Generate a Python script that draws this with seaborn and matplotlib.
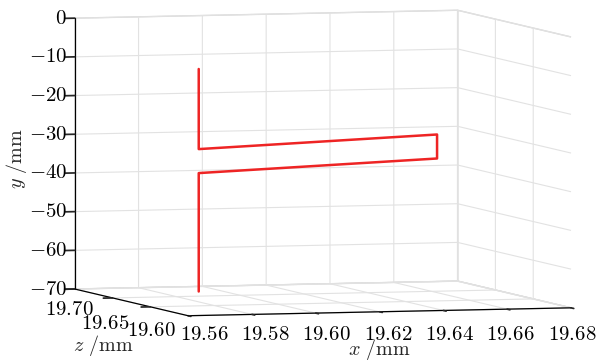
import numpy as np
import pandas as pd
import seaborn as sns
import matplotlib
matplotlib.use("Agg")
import matplotlib.pyplot as plt
from mpl_toolkits.mplot3d import proj3d

# ---- data ----
path_x = [19.5927, 19.5927, 19.6674, 19.6674, 19.5927, 19.5927]
path_y = [-12.5, -33.2, -30.7, -36.9, -39.4, -70.0]
path_z = [19.674, 19.674, 19.674, 19.674, 19.674, 19.674]

x_ticks = [19.56, 19.58, 19.60, 19.62, 19.64, 19.66, 19.68]
z_ticks = [19.60, 19.65, 19.70]
y_ticks = [-70, -60, -50, -40, -30, -20, -10, 0]
x_labels = ["19.56", "19.58", "19.60", "19.62", "19.64", "19.66", "19.68"]
z_labels = ["19.60", "19.65", "19.70"]
y_labels = ["-70", "-60", "-50", "-40", "-30", "-20", "-10", "0"]

x_lim = (19.56, 19.68)
z_lim = (19.55, 19.70)
y_lim = (-70, 0)

# label offsets in pixels (styling only)
x_label_dx = np.linspace(16, 1, len(x_ticks))
z_label_off = [(1, -24), (-7, -26), (-5, -20)]

sns.set_theme(style="white")
plt.rcParams["mathtext.fontset"] = "cm"
plt.rcParams["font.family"] = ["DejaVu Serif"]

line_color = sns.color_palette(["#ee2424"])[0]

fig = plt.figure(figsize=(6.0, 3.61), dpi=100)
ax = fig.add_axes([0.03, 0.035, 1.0, 1.0], projection="3d")
ax.set_proj_type("ortho")
ax.view_init(elev=4, azim=-106.5)
ax.set_box_aspect((1, 1, 0.68), zoom=1.685)

df = pd.DataFrame({"x": path_x, "y": path_y, "z": path_z})
ax.plot(df["x"], df["z"], df["y"], color=line_color, lw=1.8)

ax.set_xlim(*x_lim)
ax.set_ylim(*z_lim)
ax.set_zlim(*y_lim)

ax.set_xticks(x_ticks)
ax.set_yticks(z_ticks)
ax.set_zticks(y_ticks)
ax.set_xticklabels([])
ax.set_yticklabels([])
ax.set_zticklabels([])

for axis in (ax.xaxis, ax.yaxis, ax.zaxis):
    axis.set_pane_color((1, 1, 1, 1))
    axis.pane.set_edgecolor("#d6d6d6")
    axis._axinfo["grid"].update(color="#e2e2e2", linewidth=0.8)
    axis._axinfo["tick"].update(inward_factor=0.3, outward_factor=0.0)
    axis._axinfo["axisline"]["color"] = "black"
    axis.line.set_color("black")
    axis.line.set_linewidth(0.9)

# tick labels placed at projected tick locations
fig.canvas.draw()
M = ax.get_proj()
fs = 15


def proj(x, z, y):
    px, py, _ = proj3d.proj_transform(x, z, y, M)
    return px, py


for v, s in zip(y_ticks, y_labels):
    ax.annotate(f"${s}$", proj(x_lim[0], z_lim[1], v), xycoords="data",
                xytext=(-8, 0), textcoords="offset pixels", ha="right", va="center",
                fontsize=fs, annotation_clip=False, color="black")

for v, s, dx in zip(x_ticks, x_labels, x_label_dx):
    px, _ = proj(v, z_lim[0], y_lim[0])
    ax.annotate(f"${s}$", (px, 36), xycoords=("data", "figure pixels"),
                xytext=(dx, 0), textcoords="offset pixels", ha="center", va="top",
                fontsize=fs, annotation_clip=False, color="black")

for v, s, (dx, dy) in zip(z_ticks, z_labels, z_label_off):
    ax.annotate(f"${s}$", proj(x_lim[0], v, y_lim[0]), xycoords="data",
                xytext=(dx, dy), textcoords="offset pixels", ha="center", va="center",
                fontsize=fs, annotation_clip=False, color="black")

fig.text(0.028, 0.56, r"$y\ /\mathrm{mm}$", rotation=90, fontsize=14.5, ha="center", va="center")
fig.text(0.172, 0.042, r"$z\ /\mathrm{mm}$", fontsize=14.5, ha="center", va="center")
fig.text(0.632, 0.031, r"$x\ /\mathrm{mm}$", fontsize=14.5, ha="center", va="center")

fig.savefig("out.png", dpi=100)
